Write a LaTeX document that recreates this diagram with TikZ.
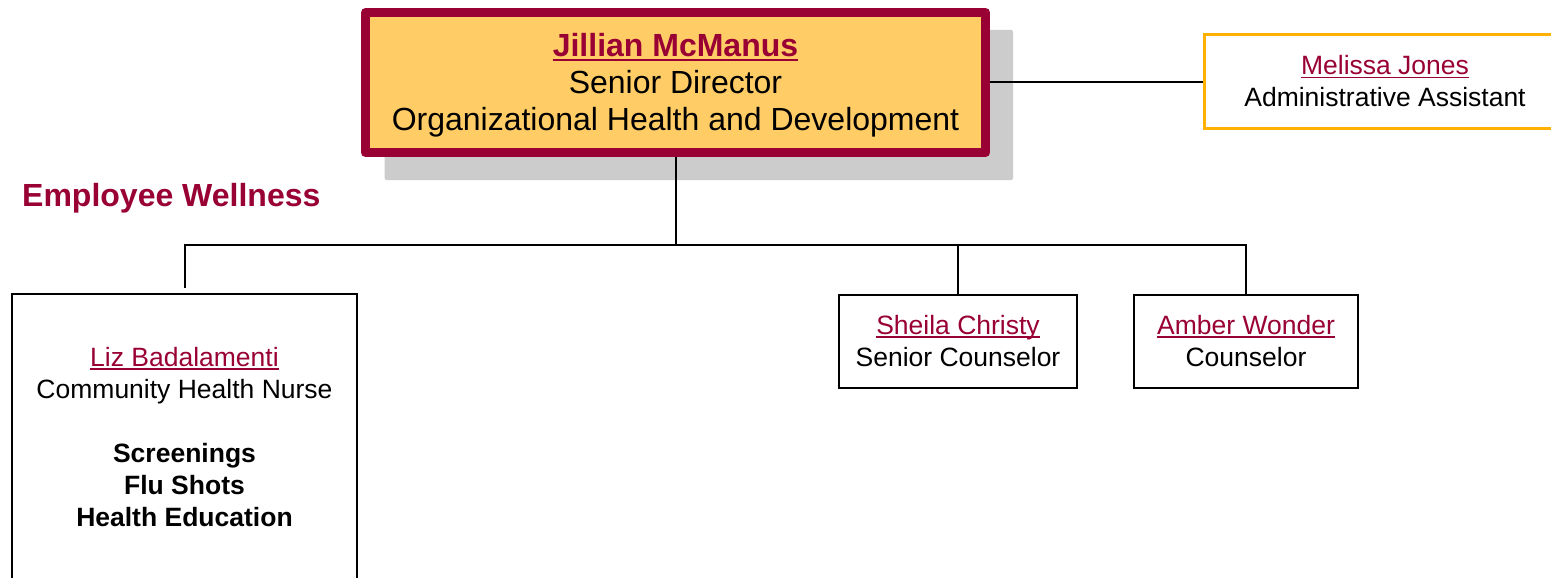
\documentclass[tikz,border=0pt]{standalone}
\usepackage{fontspec}
\setmainfont{Liberation Sans}
\usetikzlibrary{backgrounds}
\definecolor{maroon}{HTML}{990033}
\definecolor{gold}{HTML}{FFCC66}
\definecolor{shadowgray}{HTML}{CCCCCC}
\definecolor{orangeline}{HTML}{FFB000}
\newcommand\nm[1]{{\setbox0\hbox{#1}\rlap{\rule[-0.13em]{\wd0}{0.07em}}\box0}}
\begin{document}
\begin{tikzpicture}[x=1pt,y=-1pt,
  box/.style={draw=black, line width=2pt, fill=white, align=center, inner sep=0pt,
    font=\fontsize{26.5}{32}\selectfont},
  link/.style={draw=black, line width=2pt, line join=miter},
  namecol/.style={text=maroon}]
\useasboundingbox (0,0) rectangle (1551,578);

\node[draw=maroon, line width=9pt, line join=round, fill=gold, minimum width=620pt, minimum height=140pt,
  inner sep=0pt, align=center, font=\fontsize{32}{37}\selectfont]
  (main) at (675.5,82.5)
  {\rule{0pt}{29pt}\textbf{\textcolor{maroon}{\nm{Jillian McManus}}}\\Senior Director\\Organizational Health and Development};
\begin{scope}[on background layer]
  \fill[white] (0,0) rectangle (1551,578);
  \fill[shadowgray, rounded corners=1.5pt] ([shift={(23.5pt,-22pt)}]main.north west) rectangle ([shift={(23pt,-23pt)}]main.south east);
\end{scope}

\node[box, draw=orangeline, line width=3pt, minimum width=361pt, minimum height=94pt]
  (melissa) at (1385,81.5) {\textcolor{maroon}{\nm{Melissa Jones}}\\Administrative Assistant};

\node[anchor=base west, inner sep=0pt, text=maroon, font=\fontsize{32}{37}\selectfont\bfseries]
  (ew) at (22,206) {Employee Wellness};

\node[box, minimum width=345pt, minimum height=286pt] (liz) at (184.5,437)
  {\textcolor{maroon}{\nm{Liz Badalamenti}}\\Community Health Nurse\\[32pt]
   \textbf{Screenings}\\\textbf{Flu Shots}\\\textbf{Health Education}};

\node[box, minimum width=238pt, minimum height=93pt] (sheila) at (958,341)
  {\textcolor{maroon}{\nm{Sheila Christy}}\\Senior Counselor};

\node[box, minimum width=224pt, minimum height=93pt] (amber) at (1246,341)
  {\textcolor{maroon}{\nm{Amber Wonder}}\\Counselor};

\coordinate (bus) at (675.5,245);
\draw[link] (main.east) -- (main.east -| melissa.west);
\draw[link] (main.south) -- (bus);
\draw[link] ([yshift=5pt]liz.north) -- (liz.north |- bus) -- (bus -| amber.north) -- (amber.north);
\draw[link] (sheila.north |- bus) -- (sheila.north);
\end{tikzpicture}
\end{document}
